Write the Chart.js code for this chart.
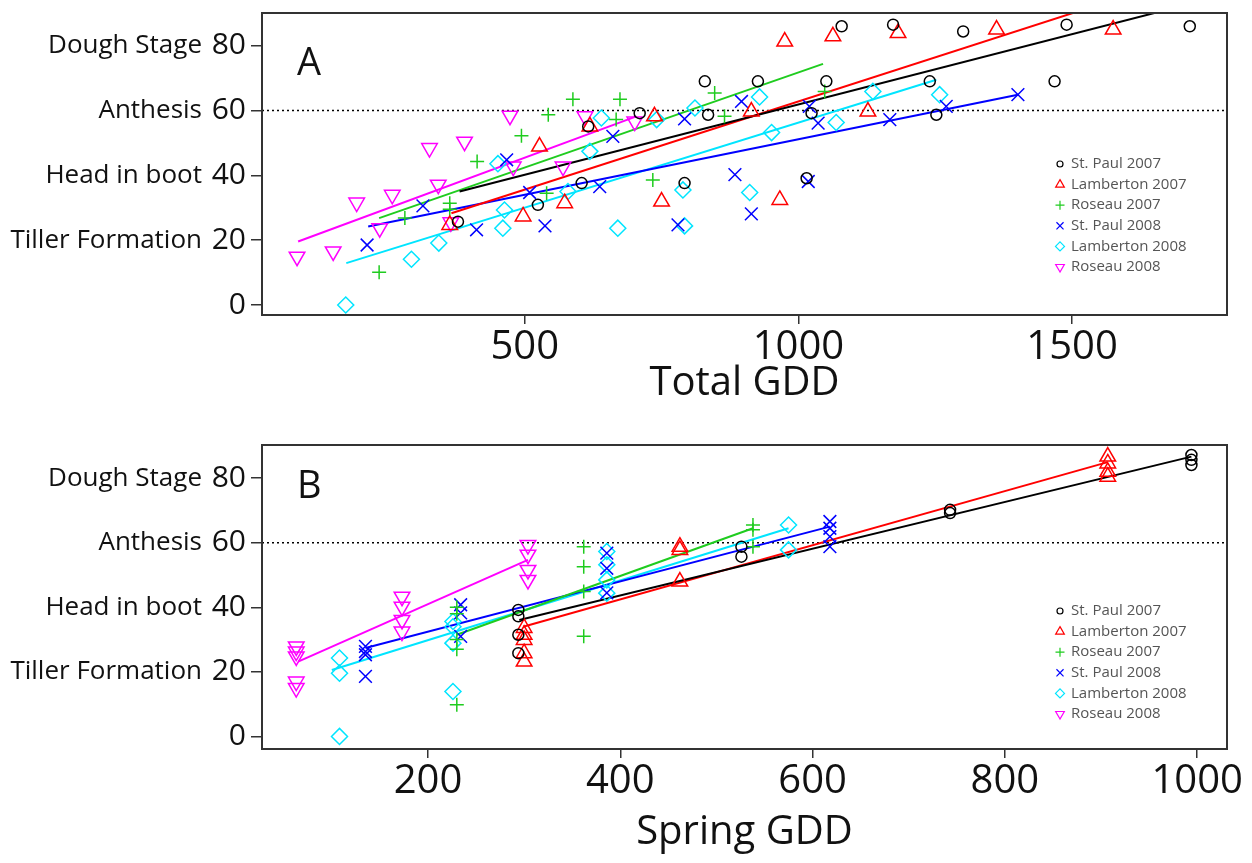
<!DOCTYPE html>
<html>
<head>
<meta charset="utf-8">
<script src="https://cdn.jsdelivr.net/npm/chart.js@4.4.1/dist/chart.umd.min.js"></script>
<style>
  body { margin: 0; background: #fff; }
  canvas { position: absolute; left: 0; }
  #chartA { top: 0; }
  #chartB { top: 430px; }
</style>
</head>
<body>
<canvas id="chartA" width="1252" height="420"></canvas>
<canvas id="chartB" width="1252" height="433"></canvas>
<script>
var sites = ['St. Paul 2007', 'Lamberton 2007', 'Roseau 2007', 'St. Paul 2008', 'Lamberton 2008', 'Roseau 2008'];
var stageTicks = [0, 20, 40, 60, 80];
var stageNames = ['', 'Tiller Formation', 'Head in boot', 'Anthesis', 'Dough Stage'];
var totalTicks = [500, 1000, 1500];
var springTicks = [200, 400, 600, 800, 1000];
var anthesis = 60;

// panel A : [total GDD, growth stage]
var totStPaul07 = [[378,25.7],[524,30.9],[604,37.6],[616,55.1],[710,59.2],[792,37.6],[829,69],[835,58.7],[926,69],[1015,39.1],[1024,59.2],[1051,69],[1079,86],[1173,86.5],[1240,69],[1252,58.7],[1301,84.4],[1468,69],[1490,86.5],[1715,86]];
var totLamb07 = [[363,24.7],[497,27.3],[527,48.9],[573,31.4],[619,55.1],[737,58.2],[750,31.9],[914,59.7],[966,32.4],[975,81.3],[1063,82.9],[1127,59.7],[1182,83.9],[1362,85],[1575,85]];
var totRoseau07 = [[234,10.1],[281,26.8],[363,31.4],[363,29.5],[413,44.3],[494,52.2],[540,34.5],[543,58.7],[588,63.5],[667,57.2],[674,63.5],[734,38.6],[847,65.4],[865,58.2],[1048,65.9]];
var totStPaul08 = [[212,18.5],[314,30.6],[412,23.2],[467,44.8],[509,34.7],[537,24.4],[637,36.5],[661,52],[780,24.7],[792,57.4],[884,40.2],[896,62.8],[914,28.1],[1018,38.1],[1020,61.3],[1036,56.1],[1167,57.2],[1270,61.3],[1401,64.9]];
var totLamb08 = [[173,0],[293,14.1],[343,19.1],[451,43.6],[460,23.7],[463,29.3],[579,35],[619,47.4],[640,57.7],[670,23.7],[741,57.2],[789,35.5],[792,24.4],[811,60.8],[911,34.7],[929,64.2],[951,53.2],[1069,56.3],[1136,65.9],[1258,64.9]];
var totRoseau08 = [[84,14.9],[150,16.5],[193,31.6],[235,23.7],[258,34],[326,48.4],[342,37.1],[365,25.5],[390,50.4],[473,58.4],[479,42.7],[570,42.7],[610,58.2],[701,56.6]];

// fitted lines, panel A (end points)
var fitTotStPaul07 = [[381,35],[1715,92.9]];
var fitTotLamb07 = [[366,28.3],[1575,94.1]];
var fitTotRoseau07 = [[234,26.8],[1045,74.4]];
var fitTotStPaul08 = [[214,24.2],[1401,64.9]];
var fitTotLamb08 = [[174,12.9],[1252,69.5]];
var fitTotRoseau08 = [[86,19.6],[704,58.2]];

// panel B : [spring GDD, growth stage]
var sprStPaul07 = [[294,39.2],[294,37.2],[294,31.5],[294,25.8],[526,58.8],[526,55.7],[743,70.2],[743,69.2],[994,87.2],[994,85.7],[994,84.1]];
var sprLamb07 = [[300,33.6],[300,31.5],[300,29.9],[300,25.8],[300,23.2],[462,58.8],[462,57.8],[462,48],[907,86.7],[907,84.6],[907,82],[907,80.5]];
var sprRoseau07 = [[230,40],[230,38],[230,30],[230,27],[230,9.8],[362,58.8],[362,52.6],[362,44.9],[362,31],[538,65.5],[538,64],[538,58.8]];
var sprStPaul08 = [[135,27.9],[135,26.3],[135,25.3],[135,18.6],[234,40.8],[234,38.3],[234,31],[386,56.8],[386,52.1],[386,44.5],[618,66.6],[618,64.5],[618,61.9],[618,58.8]];
var sprLamb08 = [[108,24.3],[108,19.6],[108,0],[226,35.6],[226,34],[226,28.9],[226,13.9],[386,57.3],[386,53.2],[386,48.5],[386,44.4],[575,65.5],[575,57.8]];
var sprRoseau08 = [[63,27.9],[63,26.3],[63,24.8],[63,17],[63,15],[173,43.3],[173,40.2],[173,36.1],[173,32.5],[304,59.3],[304,56.3],[304,51.6],[304,48.5]];

var fitSprStPaul07 = [[295,36.1],[994,86.7]];
var fitSprLamb07 = [[299,34],[907,85]];
var fitSprRoseau07 = [[230,31.5],[538,64.5]];
var fitSprStPaul08 = [[135,27.4],[618,65]];
var fitSprLamb08 = [[100,20.6],[575,64.5]];
var fitSprRoseau08 = [[65,23.2],[304,54.7]];

// styling per site
var siteColors = ['#000000', '#ff0000', '#1fcc1f', '#0000ff', '#00e5ff', '#ff00ff'];
var siteShapes = ['circle', 'triangle', 'cross', 'crossRot', 'rectRot', 'triangle'];
var siteRotation = [0, 0, 0, 0, 0, 180];
var siteRadius = [5.5, 9, 7, 9, 8, 9];
var legendRadius = [3, 5, 4.5, 5, 4.5, 5];
var FONT = 'Open Sans';

var framePlugin = {
  id: 'frame',
  afterDraw: function (chart) {
    var ctx = chart.ctx, a = chart.chartArea, o = chart.options.plugins.frame;
    var ys = chart.scales.y;
    ctx.save();
    // box round the plot
    ctx.strokeStyle = '#333';
    ctx.lineWidth = 2;
    ctx.strokeRect(a.left, a.top, a.right - a.left, a.bottom - a.top);

    // stage names left of the numbers
    ctx.fillStyle = '#111';
    ctx.font = '26px "' + FONT + '"';
    ctx.textAlign = 'right';
    ctx.textBaseline = 'middle';
    stageTicks.forEach(function (v, i) {
      if (stageNames[i]) ctx.fillText(stageNames[i], a.left - 60, ys.getPixelForValue(v));
    });

    // panel letter
    ctx.font = '38px "' + FONT + '"';
    ctx.textAlign = 'left';
    ctx.textBaseline = 'alphabetic';
    ctx.fillText(o.letter, a.left + 35, a.top + o.letterDy);

    // legend
    ctx.font = '15px "' + FONT + '"';
    ctx.textBaseline = 'middle';
    for (var i = 0; i < sites.length; i++) {
      var ly = a.top + o.legendDy + i * 20.6;
      var lx = a.right - 167;
      ctx.strokeStyle = siteColors[i];
      ctx.fillStyle = 'rgba(0,0,0,0)';
      ctx.lineWidth = 1.2;
      Chart.helpers.drawPoint(ctx, { pointStyle: siteShapes[i], radius: legendRadius[i], rotation: siteRotation[i], borderWidth: 1.2 }, lx, ly);
      ctx.fillStyle = '#555';
      ctx.fillText(sites[i], lx + 11, ly);
    }
    ctx.restore();
  }
};

function pointSet(i, data) {
  return {
    label: sites[i], data: data, showLine: false,
    pointStyle: siteShapes[i], pointRadius: siteRadius[i], pointRotation: siteRotation[i],
    pointBorderColor: siteColors[i], pointBackgroundColor: 'rgba(0,0,0,0)', pointBorderWidth: 1.5,
    borderColor: siteColors[i]
  };
}

function fitSet(i, data) {
  return { data: data, showLine: true, pointRadius: 0, borderColor: siteColors[i], borderWidth: 2, fill: false };
}

function makePanel(id, cfg) {
  var datasets = [];
  cfg.points.forEach(function (d, i) { datasets.push(pointSet(i, d)); });
  cfg.fits.forEach(function (d, i) { datasets.push(fitSet(i, d)); });
  // dotted anthesis line
  datasets.push({
    data: [[cfg.xRange[0], anthesis], [cfg.xRange[1], anthesis]],
    showLine: true, pointRadius: 0, borderColor: '#000', borderWidth: 1.5, borderDash: [2, 3]
  });

  return new Chart(document.getElementById(id), {
    type: 'scatter',
    data: { datasets: datasets },
    options: {
      responsive: false,
      animation: false,
      layout: { padding: { top: cfg.top, right: 25, left: 0, bottom: 0 } },
      plugins: {
        legend: { display: false },
        tooltip: { enabled: false },
        frame: { letter: cfg.letter, letterDy: cfg.letterDy, legendDy: cfg.legendDy }
      },
      scales: {
        x: {
          type: 'linear', min: cfg.xRange[0], max: cfg.xRange[1],
          afterBuildTicks: function (s) { s.ticks = cfg.xTicks.map(function (v) { return { value: v }; }); },
          afterFit: function (s) { s.height = cfg.xHeight; s.paddingLeft = 0; s.paddingRight = 0; },
          grid: { drawOnChartArea: false, drawTicks: true, tickLength: 9, color: '#333', lineWidth: 1.5 },
          border: { display: false },
          ticks: {
            font: { family: FONT, size: 40 }, color: '#111', padding: 0, maxRotation: 0, autoSkip: false,
            callback: function (v) { return String(v); }
          },
          title: {
            display: true, text: cfg.xTitle, color: '#111',
            font: { family: FONT, size: 40 }, padding: { top: 0, bottom: cfg.titlePad }
          }
        },
        y: {
          type: 'linear', min: cfg.yRange[0], max: cfg.yRange[1],
          afterBuildTicks: function (s) { s.ticks = stageTicks.map(function (v) { return { value: v }; }); },
          afterFit: function (s) { s.width = 262; s.paddingTop = 0; s.paddingBottom = 0; },
          grid: { drawOnChartArea: false, drawTicks: true, tickLength: 11, color: '#333', lineWidth: 1.5 },
          border: { display: false },
          ticks: {
            font: { family: FONT, size: 30 }, color: '#111', padding: 5,
            callback: function (v) { return String(v); }
          }
        }
      }
    },
    plugins: [framePlugin]
  });
}

makePanel('chartA', {
  letter: 'A', letterDy: 62, legendDy: 151, top: 13, xHeight: 105, titlePad: 12,
  xRange: [20, 1783], yRange: [-3.1, 90.1], xTicks: totalTicks, xTitle: 'Total GDD',
  points: [totStPaul07, totLamb07, totRoseau07, totStPaul08, totLamb08, totRoseau08],
  fits: [fitTotStPaul07, fitTotLamb07, fitTotRoseau07, fitTotStPaul08, fitTotLamb08, fitTotRoseau08]
});

makePanel('chartB', {
  letter: 'B', letterDy: 53, legendDy: 166, top: 15, xHeight: 114, titlePad: 6,
  xRange: [27.4, 1031], yRange: [-3.9, 90.3], xTicks: springTicks, xTitle: 'Spring GDD',
  points: [sprStPaul07, sprLamb07, sprRoseau07, sprStPaul08, sprLamb08, sprRoseau08],
  fits: [fitSprStPaul07, fitSprLamb07, fitSprRoseau07, fitSprStPaul08, fitSprLamb08, fitSprRoseau08]
});
</script>
</body>
</html>
